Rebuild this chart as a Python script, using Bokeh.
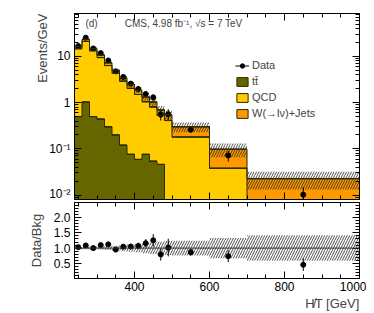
import numpy as np
from bokeh.plotting import figure
from bokeh.layouts import column
from bokeh.models import (FixedTicker, LinearAxis, LogAxis, Label, Legend,
                          LegendItem, Range1d, Span, Title)
from bokeh.embed import file_html
from bokeh.resources import INLINE

# ---------------- data ----------------
bin_edges = [240, 260, 280, 300, 320, 340, 360, 380, 400, 420, 440, 460, 480, 500,
             600, 700, 1000]
ttbar = [0.50, 1.03, 0.50, 0.44, 0.30, 0.20, 0.12, 0.076, 0.059, 0.076, 0.054, 0.046,
         0.0, 0.0, 0.0, 0.0]
qcd = [14.2, 20.1, 12.8, 9.0, 6.05, 4.1, 2.8, 1.96, 1.44, 0.97, 0.75, 0.48, 0.41,
       0.18, 0.038, 0.0]
wjets = [1.6, 2.3, 1.6, 1.3, 0.95, 0.70, 0.52, 0.42, 0.35, 0.28, 0.23, 0.17, 0.14,
         0.12, 0.060, 0.0226]
data = [16.8, 25.5, 14.9, 11.8, 8.2, 4.75, 3.6, 2.58, 1.98, 1.54, 1.30, 0.55, 0.56,
        0.26, 0.072, 0.0102]
data_err = [0.67, 0.9, 0.67, 0.6, 0.5, 0.38, 0.29, 0.23, 0.2, 0.18, 0.21, 0.14, 0.16,
            0.036, 0.019, 0.0046]
bkg_rel_unc = [0.04, 0.04, 0.05, 0.05, 0.06, 0.08, 0.10, 0.12, 0.14, 0.17, 0.19, 0.21,
               0.23, 0.24, 0.33, 0.42]
log_major = [0.01, 0.1, 1, 10]
log_labels = {0.01: "10\u207b\u00b2", 0.1: "10\u207b\u00b9", 1: "1", 10: "10"}
x_major = [400, 600, 800, 1000]
ratio_major = [0.5, 1.0, 1.5, 2.0]

# ---------------- derived ----------------
edges = np.array(bin_edges, dtype=float)
left, right = edges[:-1], edges[1:]
center = 0.5 * (left + right)
tt = np.array(ttbar)
qc = np.array(qcd)
wj = np.array(wjets)
d = np.array(data)
de = np.array(data_err)
unc = np.array(bkg_rel_unc)
FLOOR = 1e-4
c1 = np.maximum(tt, FLOOR)
c2 = np.maximum(tt + qc, FLOOR)
c3 = tt + qc + wj
ratio = d / c3
ratio_err = de / c3


def ext(a):
    a = np.asarray(a, dtype=float)
    return np.append(a, a[-1])


OLIVE = "#666600"
YELLOW = "#ffcc00"
ORANGE = "#ff9900"
EDGE = "#2b2b00"
FONT = "Liberation Sans"

log_minor = [k * 10.0 ** e for e in range(-3, 2) for k in range(2, 10)]
x_minor = [250, 300, 350, 450, 500, 550, 650, 700, 750, 850, 900, 950]
ratio_minor = [round(0.1 * i, 1) for i in range(0, 26)]


def style_axis(ax, labels=True, size="12px"):
    ax.major_tick_in = 7
    ax.major_tick_out = 0
    ax.minor_tick_in = 4
    ax.minor_tick_out = 0
    ax.axis_line_color = "black"
    ax.major_tick_line_color = "black"
    ax.minor_tick_line_color = "black"
    ax.major_label_text_font = FONT
    ax.major_label_text_color = "black"
    ax.axis_label_text_font = FONT
    ax.axis_label_text_font_style = "normal"
    ax.axis_label_text_font_size = "13px"
    if labels:
        ax.major_label_text_font_size = size
        ax.major_label_standoff = 4
    else:
        ax.major_label_text_font_size = "1px"
        ax.major_label_text_alpha = 0
        ax.major_label_standoff = 0


# ---------------- top panel ----------------
p1 = figure(width=366, height=200, y_axis_type="log",
            x_range=Range1d(240, 1000), y_range=Range1d(0.008, 85),
            output_backend="svg", toolbar_location=None,
            min_border_left=74, min_border_right=7, min_border_top=13,
            min_border_bottom=1)
p1.xgrid.visible = False
p1.ygrid.visible = False
p1.outline_line_color = "black"
p1.outline_line_width = 1

p1.varea_step(x=edges, y1=ext(np.full(len(tt), FLOOR)), y2=ext(c1), step_mode="after",
              fill_color=OLIVE)
p1.varea_step(x=edges, y1=ext(c1), y2=ext(c2), step_mode="after", fill_color=YELLOW)
p1.varea_step(x=edges, y1=ext(c2), y2=ext(c3), step_mode="after", fill_color=ORANGE)
for vals in (c1, c2, c3):
    p1.step(x=edges, y=ext(vals), mode="after", line_color=EDGE, line_width=1)
p1.quad(left=left, right=right, bottom=c3 * (1 - unc), top=c3 * (1 + unc),
        fill_alpha=0, line_color=None, hatch_pattern="/", hatch_color="#222222",
        hatch_scale=5, hatch_weight=0.8)
r_err = p1.segment(x0=center, y0=d - de, x1=center, y1=d + de,
                   line_color="black", line_width=1)
r_pt = p1.scatter(x=center, y=d, size=5, color="black")

# zero-height boxes on the layer tops, used for the legend swatches
lg_tt = p1.quad(left=left, right=right, bottom=c1, top=c1, fill_color=OLIVE,
                line_color=EDGE)
lg_qcd = p1.quad(left=left, right=right, bottom=c2, top=c2, fill_color=YELLOW,
                 line_color=EDGE)
lg_w = p1.quad(left=left, right=right, bottom=c3, top=c3, fill_color=ORANGE,
               line_color=EDGE)
legend = Legend(items=[
    LegendItem(label="Data", renderers=[r_err, r_pt]),
    LegendItem(label="tt\u0304", renderers=[lg_tt]),
    LegendItem(label="QCD", renderers=[lg_qcd]),
    LegendItem(label="W(\u2192l\u03bd)+Jets", renderers=[lg_w]),
], location=(161, 80), glyph_height=11, glyph_width=14, label_height=11,
    spacing=4, padding=0, margin=0, border_line_color=None,
    background_fill_alpha=0, label_text_font=FONT, label_text_font_size="11px",
    label_standoff=3)
p1.add_layout(legend)

style_axis(p1.yaxis[0], labels=True)
p1.yaxis[0].ticker = FixedTicker(ticks=log_major, minor_ticks=log_minor)
p1.yaxis[0].major_label_overrides = log_labels
style_axis(p1.xaxis[0], labels=False)
p1.xaxis[0].ticker = FixedTicker(ticks=x_major, minor_ticks=x_minor)

ax_top = LinearAxis(ticker=FixedTicker(ticks=x_major, minor_ticks=x_minor))
style_axis(ax_top, labels=False)
p1.add_layout(ax_top, "above")
ax_right = LogAxis(ticker=FixedTicker(ticks=log_major, minor_ticks=log_minor))
style_axis(ax_right, labels=False)
p1.add_layout(ax_right, "right")

p1.add_layout(Title(text="Events/GeV", align="right", text_font=FONT,
                    text_font_size="13px", text_font_style="normal", standoff=-7),
              "left")

p1.add_layout(Label(x=269, y=52, text="(d)", text_align="left", text_baseline="middle",
                    text_font=FONT, text_font_size="10px"))
p1.add_layout(Label(x=374, y=52, text="CMS, 4.98 fb\u207b\u00b9, \u221as = 7 TeV",
                    text_align="left", text_baseline="middle", text_font=FONT,
                    text_font_size="10px"))

# ---------------- ratio panel ----------------
p2 = figure(width=366, height=113, x_range=p1.x_range, y_range=Range1d(0, 2.5),
            output_backend="svg", toolbar_location=None,
            min_border_left=74, min_border_right=7, min_border_top=2,
            min_border_bottom=35)
p2.xgrid.visible = False
p2.ygrid.visible = False
p2.outline_line_color = "black"
p2.outline_line_width = 1

p2.quad(left=left, right=right, bottom=1 - unc, top=1 + unc, fill_alpha=0,
        line_color=None, hatch_pattern="/", hatch_color="#222222", hatch_scale=5,
        hatch_weight=0.8)
p2.add_layout(Span(location=1.0, dimension="width", line_color="#333333", line_width=1))
p2.segment(x0=center, y0=ratio - ratio_err, x1=center, y1=ratio + ratio_err,
           line_color="black", line_width=1)
p2.scatter(x=center, y=ratio, size=5, color="black")

style_axis(p2.xaxis[0], labels=True)
p2.xaxis[0].ticker = FixedTicker(ticks=x_major, minor_ticks=x_minor)
p2.xaxis[0].major_label_standoff = 3
style_axis(p2.yaxis[0], labels=True)
p2.yaxis[0].ticker = FixedTicker(ticks=ratio_major, minor_ticks=ratio_minor)
p2.yaxis[0].major_label_overrides = {0.5: "0.5", 1.0: "1.0", 1.5: "1.5", 2.0: "2.0"}
p2.yaxis[0].axis_label = "Data/Bkg"
p2.yaxis[0].axis_label_standoff = 7
ax_top2 = LinearAxis(ticker=FixedTicker(ticks=x_major, minor_ticks=x_minor))
style_axis(ax_top2, labels=False)
p2.add_layout(ax_top2, "above")
ax_right2 = LinearAxis(ticker=FixedTicker(ticks=ratio_major, minor_ticks=ratio_minor))
style_axis(ax_right2, labels=False)
p2.add_layout(ax_right2, "right")

p2.add_layout(Title(text="H\u0338T [GeV]", align="right", text_font=FONT,
                    text_font_size="13px", text_font_style="normal", standoff=0),
              "below")

layout = column(p1, p2, spacing=0)
open("out.html", "w").write(file_html(layout, INLINE))
